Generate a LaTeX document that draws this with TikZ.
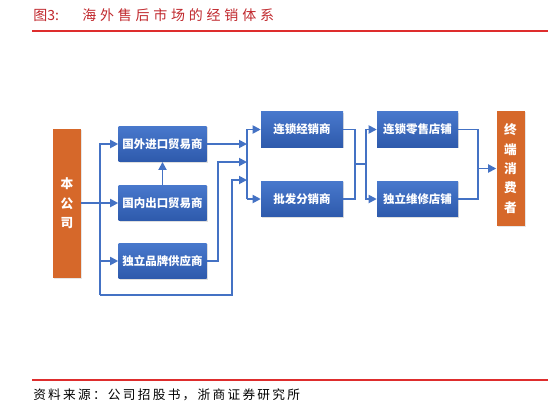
\documentclass[tikz,border=0pt]{standalone}
\usepackage{fontspec}
\usepackage{tikz}
\usepackage{xcolor}
\usetikzlibrary{arrows.meta,shadows}
\newfontfamily\cjk{Noto Sans CJK SC}
\newfontfamily\cjktitle[LetterSpace=27]{Noto Sans CJK SC}
\newfontfamily\cjksrc[LetterSpace=18]{Noto Sans CJK SC}
\definecolor{titlered}{RGB}{192,40,45}
\definecolor{rulered}{RGB}{222,45,45}
\definecolor{flowblue}{RGB}{68,114,196}

\begin{document}
\begin{tikzpicture}[x=0.75pt,y=-0.75pt,
    chanbox/.style={rectangle, top color=boxtop, bottom color=boxbot, draw=none,
        text=white, font=\cjk\bfseries\fontsize{8.6pt}{10pt}\selectfont,
        minimum width=66pt, minimum height=26.5pt, inner sep=0pt,
        drop shadow={shadow xshift=0.8pt, shadow yshift=-0.8pt, opacity=0.25}},
    endbox/.style={rectangle, fill=endorange, draw=none, text=white,
        font=\cjk\bfseries\fontsize{9.5pt}{14.5pt}\selectfont, align=center,
        minimum width=21pt, inner sep=0pt,
        drop shadow={shadow xshift=0.8pt, shadow yshift=-0.8pt, opacity=0.2}},
    flow/.style={draw=flowblue, line width=1.3pt},
    flowarrow/.style={flow, -{Triangle[length=6pt,width=6pt]}}]
    % Define colors for the boxes
    \definecolor{boxtop}{RGB}{72,120,204}
    \definecolor{boxbot}{RGB}{46,90,172}
    \definecolor{endorange}{RGB}{214,104,42}

    % Page frame
    \useasboundingbox (0,0) rectangle (548,411);

    % Title and rules
    \node[anchor=west, inner sep=0pt, text=titlered, font=\cjk\fontsize{10.5pt}{12pt}\selectfont] (titlenum) at (33,15) {图3:};
    \node[anchor=west, inner sep=0pt, text=titlered, font=\cjktitle\fontsize{10.5pt}{12pt}\selectfont] (titletext) at (82,15) {海外售后市场的经销体系};
    \draw[rulered, line width=0.8pt] (32,31) -- (548,31);
    \draw[rulered, line width=0.8pt] (32,380) -- (548,380);
    \node[anchor=west, inner sep=0pt, font=\cjksrc\fontsize{9.5pt}{11pt}\selectfont] (source) at (33,395) {资料来源：公司招股书，浙商证券研究所};

    % Company and end consumers
    \node[endbox, minimum height=111.75pt] (company) at (67,203.5) {本\\公\\司};
    \node[endbox, minimum height=86.25pt] (consumer) at (510.5,168.5) {终\\端\\消\\费\\者};

    % First level: traders and suppliers
    \node[chanbox] (importer) at (162.5,144) {国外进口贸易商};
    \node[chanbox] (exporter) at (162.5,203) {国内出口贸易商};
    \node[chanbox] (brand) at (162.5,261) {独立品牌供应商};

    % Second level: distributors
    \node[chanbox, minimum width=61.5pt] (chain) at (302,129.5) {连锁经销商};
    \node[chanbox, minimum width=61.5pt] (wholesale) at (302,199) {批发分销商};

    % Third level: shops
    \node[chanbox, minimum width=60.75pt] (retail) at (417.5,129.5) {连锁零售店铺};
    \node[chanbox, minimum width=60.75pt] (repair) at (417.5,199) {独立维修店铺};

    % Helper points for the bends
    \coordinate (trunk) at (100,295);
    \coordinate (jogbrand) at (218,162);
    \coordinate (jogloop) at (232,180);
    \coordinate (bus) at (247,164);
    \coordinate (merge) at (355,164);
    \coordinate (bustwo) at (366,164);
    \coordinate (mergetwo) at (478,164);

    % Company to first level
    \draw[flowarrow] (company.east |- exporter) -- (exporter.west);
    \draw[flowarrow] (trunk) |- (importer.west);
    \draw[flowarrow] (trunk |- brand) -- (brand.west);
    \draw[flowarrow] (exporter.north) -- (importer.south);

    % First level to second level
    \draw[flowarrow] (importer.east) -- (bus |- importer.east);
    \draw[flowarrow] (brand.east) -| (jogbrand) -- (bus |- jogbrand);
    \draw[flowarrow] (trunk) -| (jogloop) -- (bus |- jogloop);
    \draw[flowarrow] (bus |- wholesale) |- (chain.west);
    \draw[flowarrow] (bus |- wholesale) -- (wholesale.west);

    % Second level to third level
    \draw[flow] (chain.east) -| (merge) |- (wholesale.east);
    \draw[flow] (merge) -- (bustwo);
    \draw[flowarrow] (bustwo) |- (retail.west);
    \draw[flowarrow] (bustwo) |- (repair.west);

    % Third level to consumers
    \draw[flow] (retail.east) -| (mergetwo) |- (repair.east);
    \draw[flowarrow] (mergetwo |- consumer) -- (consumer.west);

\end{tikzpicture}
\end{document}
